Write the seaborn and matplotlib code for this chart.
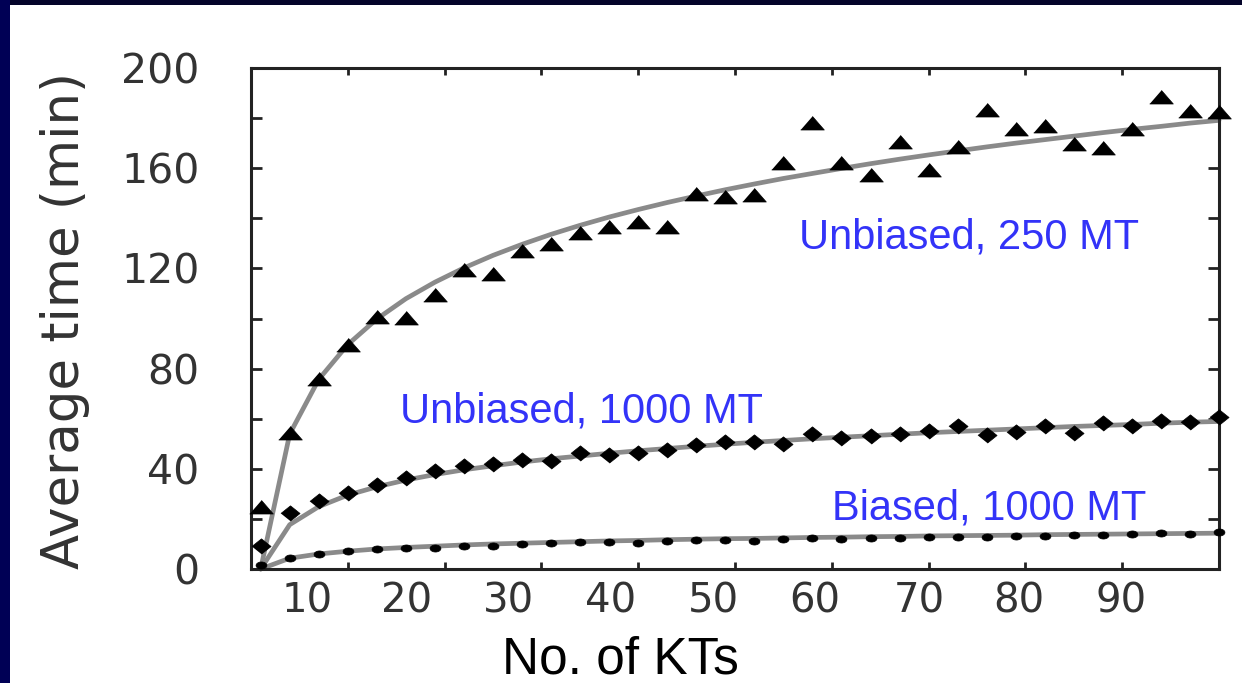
import numpy as np
import matplotlib
matplotlib.use("Agg")
import matplotlib.pyplot as plt
from matplotlib.patches import Rectangle
import seaborn as sns

# ---- data ----
kts = [1, 4, 7, 10, 13, 16, 19, 22, 25, 28, 31, 34, 37, 40, 43, 46, 49,
       52, 55, 58, 61, 64, 67, 70, 73, 76, 79, 82, 85, 88, 91, 94, 97, 100]

unbiased_250 = [24.9, 54.2, 75.7, 89.4, 100.7, 100.2, 109.4, 119.4, 117.8, 127.1,
                129.7, 134.0, 136.7, 138.6, 136.4, 149.7, 148.4, 149.3, 162.0, 177.9,
                162.0, 157.3, 170.6, 159.3, 168.3, 183.2, 175.5, 176.8, 169.7, 167.9,
                175.5, 188.5, 182.8, 182.3]
fit_unbiased_250 = [0.0, 53.9, 75.7, 89.6, 99.8, 107.9, 114.5, 120.2, 125.2, 129.6,
                    133.6, 137.2, 140.5, 143.5, 146.3, 148.9, 151.4, 153.7, 155.9, 157.9,
                    159.9, 161.8, 163.6, 165.3, 166.9, 168.5, 170.0, 171.4, 172.8, 174.2,
                    175.5, 176.7, 178.0, 179.1]

unbiased_1000 = [9.2, 22.5, 27.3, 30.5, 33.4, 36.2, 39.2, 41.1, 41.9, 43.5,
                 43.2, 46.2, 45.5, 46.4, 47.5, 49.5, 50.5, 50.6, 49.9, 53.8,
                 52.4, 53.2, 53.8, 55.2, 57.1, 53.4, 54.8, 57.2, 54.4, 58.2,
                 57.1, 59.2, 58.8, 60.6]
fit_unbiased_1000 = [0.0, 17.7, 24.9, 29.5, 32.8, 35.5, 37.7, 39.6, 41.2, 42.7,
                     44.0, 45.1, 46.2, 47.2, 48.1, 49.0, 49.8, 50.6, 51.3, 52.0,
                     52.6, 53.2, 53.8, 54.4, 54.9, 55.4, 55.9, 56.4, 56.9, 57.3,
                     57.7, 58.2, 58.6, 58.9]

biased_1000 = [1.6, 4.5, 6.0, 7.3, 8.0, 8.3, 8.3, 9.2, 9.2, 10.0,
               10.3, 10.6, 10.9, 10.5, 11.3, 11.6, 11.7, 11.3, 12.0, 12.5,
               12.0, 12.5, 12.5, 12.6, 12.6, 12.6, 13.2, 13.2, 13.6, 13.4,
               14.0, 14.2, 14.0, 14.6]
fit_biased_1000 = [0.0, 4.3, 6.0, 7.1, 8.0, 8.6, 9.1, 9.6, 10.0, 10.3,
                   10.6, 10.9, 11.2, 11.4, 11.7, 11.9, 12.1, 12.2, 12.4, 12.6,
                   12.7, 12.9, 13.0, 13.2, 13.3, 13.4, 13.5, 13.7, 13.8, 13.9,
                   14.0, 14.1, 14.2, 14.3]

x_ticks = [10, 20, 30, 40, 50, 60, 70, 80, 90]
x_tick_labels = ["10", "20", "30", "40", "50", "60", "70", "80", "90"]
x_label_pos = [5.8, 16.1, 26.6, 37.1, 47.8, 58.2, 69.0, 79.3, 89.9]
y_ticks = [0, 40, 80, 120, 160, 200]
y_tick_labels = ["0", "40", "80", "120", "160", "200"]
y_minor = [20, 60, 100, 140, 180]

labels = ["Unbiased, 250 MT", "Unbiased, 1000 MT", "Biased, 1000 MT"]

# ---- style ----
sns.set_theme(style="white")
plt.rcParams["font.family"] = ["DejaVu Sans"]

fig = plt.figure(figsize=(12.42, 6.83), dpi=100)
fig.patch.set_facecolor("white")
# dark slide border (top and left)
fig.patches.append(Rectangle((0, 1 - 5 / 683), 1, 5 / 683, transform=fig.transFigure,
                             facecolor="#04042a", linewidth=0, zorder=0))
fig.patches.append(Rectangle((0, 0), 10 / 1242, 1, transform=fig.transFigure,
                             facecolor="#000055", linewidth=0, zorder=0))

ax = fig.add_axes([251 / 1242, 1 - 569 / 683, (1219 - 251) / 1242, (569 - 68) / 683])
ax.set_facecolor("white")

tri = [(-1, -0.55), (1, -0.55), (0, 0.6)]
dia = [(-1, 0), (0, 0.8), (1, 0), (0, -0.8)]
th = np.linspace(0, 2 * np.pi, 24)
ell = list(zip(np.cos(th), 0.65 * np.sin(th)))

line_kw = dict(color="#8a8a8a", linewidth=3.4, estimator=None, sort=False,
               legend=False, zorder=2)
for fit in (fit_unbiased_250, fit_unbiased_1000, fit_biased_1000):
    sns.lineplot(x=kts, y=fit, ax=ax, **line_kw)
for l in ax.lines:
    l.set_clip_on(False)

for vals, mk, s in ((unbiased_250, tri, 290), (unbiased_1000, dia, 190),
                    (biased_1000, ell, 62)):
    sns.scatterplot(x=kts, y=vals, ax=ax, marker=mk, s=s, color="black",
                    edgecolor="black", linewidth=0.5, zorder=3, legend=False)
for c in ax.collections:
    c.set_clip_on(False)

ax.set_xlim(0, 100)
ax.set_ylim(0, 200)

# x: tick marks at true positions, labels where the reference shows them
ax.set_xticks(x_ticks)
ax.set_xticklabels([""] * len(x_ticks))
ax.set_xticks(x_label_pos, labels=x_tick_labels, minor=True)
ax.tick_params(axis="x", which="major", direction="in", top=True, bottom=True,
               length=5, width=2, color="#222222")
ax.tick_params(axis="x", which="minor", length=0, top=False, bottom=False,
               labelsize=29, labelcolor="#333333", pad=9)

ax.set_yticks(y_ticks, labels=y_tick_labels)
ax.set_yticks(y_minor, minor=True)
ax.tick_params(axis="y", which="both", direction="in", left=True, right=True,
               length=8, width=2, color="#222222")
ax.tick_params(axis="y", which="major", labelsize=29.5, labelcolor="#333333", pad=37)

for sp in ax.spines.values():
    sp.set_visible(True)
    sp.set_color("#222222")
    sp.set_linewidth(2.2)

ax.set_ylabel("Average time (min)", fontsize=37, color="#333333")
ax.yaxis.set_label_coords(-0.166, 0.497)
ax.set_xlabel("")

blue = "#3333f8"
ax.text(56.6, 128.1, labels[0], color=blue, fontsize=30, family="Liberation Sans",
        va="baseline", ha="left")
ax.text(15.4, 58.3, labels[1], color=blue, fontsize=30, family="Liberation Sans",
        va="baseline", ha="left")
ax.text(60.0, 19.6, labels[2], color=blue, fontsize=30, family="Liberation Sans",
        va="baseline", ha="left")

fig.text(620 / 1242, (683 - 674) / 683, "No. of KTs", fontsize=37,
         family="Liberation Sans", color="black", ha="center", va="baseline")

fig.savefig("out.png", dpi=100, facecolor=fig.get_facecolor())
